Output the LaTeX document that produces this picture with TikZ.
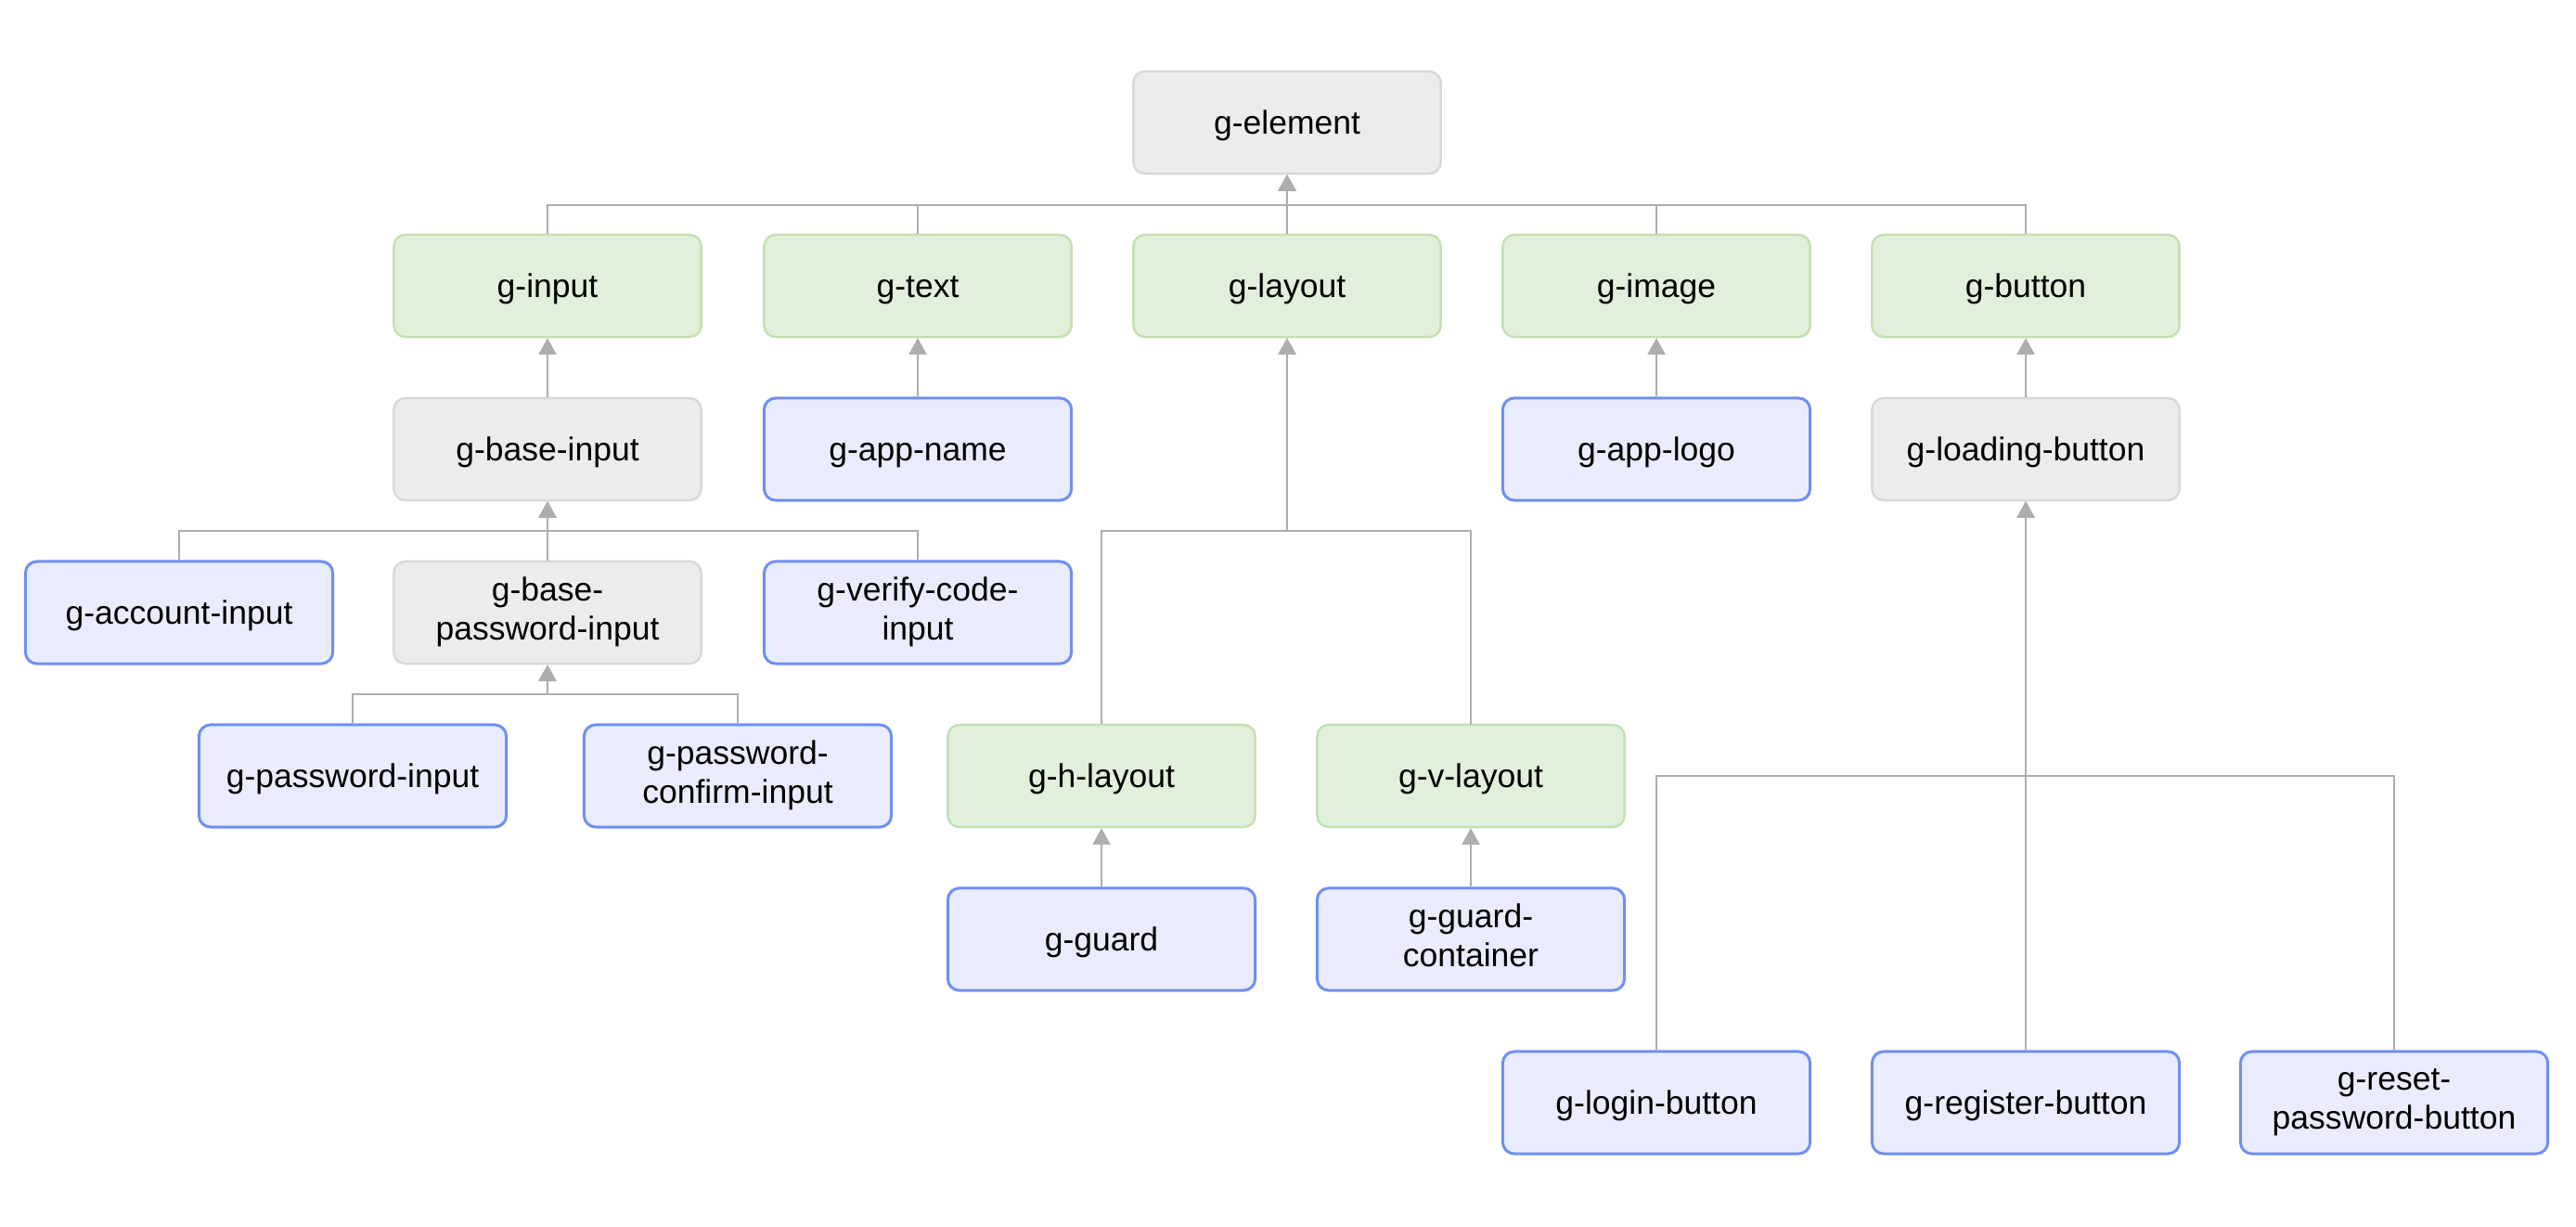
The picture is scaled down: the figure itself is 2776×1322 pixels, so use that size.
\documentclass[tikz,border=0pt]{standalone}
\usepackage{fontspec}
\setmainfont{Liberation Sans}
\usetikzlibrary{arrows.meta}
\definecolor{greyfill}{HTML}{ECECEC}
\definecolor{greyline}{HTML}{D8D8D8}
\definecolor{greenfill}{HTML}{E2EFDA}
\definecolor{greenline}{HTML}{C3E0B2}
\definecolor{bluefill}{HTML}{E9ECFC}
\definecolor{blueline}{HTML}{6F8FF0}
\definecolor{linkgrey}{HTML}{ADADAD}
\newcommand{\boxstrut}{\rule[-2.4pt]{0pt}{12pt}}

\begin{document}
\begin{tikzpicture}[x=0.01cm,y=-0.01cm,>={Triangle[width=5.4pt,length=5pt]},
    base node/.style={rectangle,rounded corners=3.5pt,minimum width=3.31cm,minimum height=1.1cm,
      align=center,font=\fontsize{10.1}{12}\selectfont,line width=0.7pt,
      execute at begin node=\boxstrut,execute at end node=\boxstrut},
    grey node/.style={base node,draw=greyline,fill=greyfill},
    green node/.style={base node,draw=greenline,fill=greenfill},
    blue node/.style={base node,draw=blueline,fill=bluefill,line width=0.85pt},
    link/.style={->,draw=linkgrey,line width=0.55pt}]
   \useasboundingbox (0,0) rectangle (2776,1322);
   % top
   \node[grey node] (elem) at (1387,132) {g-element};
   % second row
   \node[green node] (input) at (590,308) {g-input};
   \node[green node] (text) at (989,308) {g-text};
   \node[green node] (layout) at (1387,308) {g-layout};
   \node[green node] (image) at (1785,308) {g-image};
   \node[green node] (button) at (2183,308) {g-button};
   % third row
   \node[grey node] (baseinput) at (590,484) {g-base-input};
   \node[blue node] (appname) at (989,484) {g-app-name};
   \node[blue node] (applogo) at (1785,484) {g-app-logo};
   \node[grey node] (loading) at (2183,484) {g-loading-button};
   % fourth row
   \node[blue node] (account) at (193,660) {g-account-input};
   \node[grey node] (basepw) at (590,660) {g-base-\\password-input};
   \node[blue node] (verify) at (989,660) {g-verify-code-\\input};
   % fifth row
   \node[blue node] (password) at (380,836) {g-password-input};
   \node[blue node] (confirm) at (795,836) {g-password-\\confirm-input};
   \node[green node] (hlayout) at (1187,836) {g-h-layout};
   \node[green node] (vlayout) at (1585,836) {g-v-layout};
   % sixth row
   \node[blue node] (guard) at (1187,1012) {g-guard};
   \node[blue node] (guardbox) at (1585,1012) {g-guard-\\container};
   % bottom row
   \node[blue node] (login) at (1785,1188) {g-login-button};
   \node[blue node] (register) at (2183,1188) {g-register-button};
   \node[blue node] (reset) at (2580,1188) {g-reset-\\password-button};

   % bus points
   \coordinate (elembus) at (1387,221);
   \coordinate (inputbus) at (590,572);
   \coordinate (layoutbus) at (1387,572);
   \coordinate (pwbus) at (590,748);
   \coordinate (loadbus) at (2183,836);

   \draw[link] (input.north) |- (elembus) -- (elem.south);
   \draw[link] (text.north) |- (elembus) -- (elem.south);
   \draw[link] (layout.north) -- (elem.south);
   \draw[link] (image.north) |- (elembus) -- (elem.south);
   \draw[link] (button.north) |- (elembus) -- (elem.south);

   \draw[link] (baseinput) -- (input);
   \draw[link] (appname) -- (text);
   \draw[link] (applogo) -- (image);
   \draw[link] (loading) -- (button);

   \draw[link] (account.north) |- (inputbus) -- (baseinput.south);
   \draw[link] (basepw.north) -- (baseinput.south);
   \draw[link] (verify.north) |- (inputbus) -- (baseinput.south);

   \draw[link] (password.north) |- (pwbus) -- (basepw.south);
   \draw[link] (confirm.north) |- (pwbus) -- (basepw.south);

   \draw[link] (hlayout.north) |- (layoutbus) -- (layout.south);
   \draw[link] (vlayout.north) |- (layoutbus) -- (layout.south);

   \draw[link] (guard) -- (hlayout);
   \draw[link] (guardbox) -- (vlayout);

   \draw[link] (login.north) |- (loadbus) -- (loading.south);
   \draw[link] (register.north) -- (loading.south);
   \draw[link] (reset.north) |- (loadbus) -- (loading.south);
\end{tikzpicture}
\end{document}
